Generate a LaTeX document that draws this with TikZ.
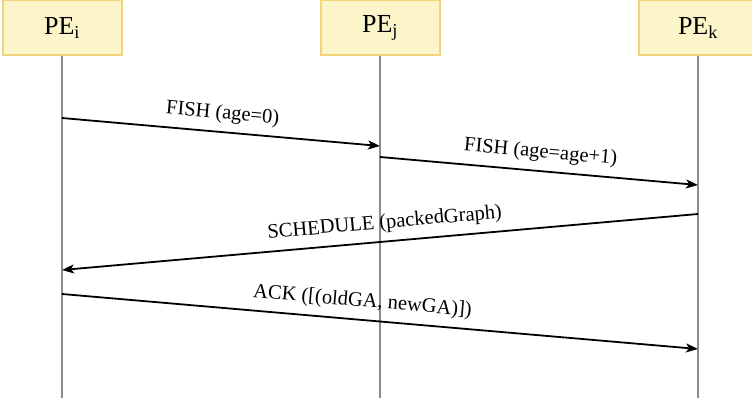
\documentclass[tikz,border=0pt]{standalone}
\usepackage{fontspec}
\setmainfont{Liberation Serif}
\usetikzlibrary{arrows.meta}
\definecolor{boxfill}{HTML}{FBF5C9}
\definecolor{boxline}{HTML}{F4D47A}
\definecolor{lifeline}{HTML}{8C8C8C}
\tikzset{
  pebox/.style={draw=boxline, line width=2pt, fill=boxfill,
    minimum width=119pt, minimum height=55pt, inner sep=0pt,
    font=\fontsize{26}{30}\selectfont},
  life/.style={draw=lifeline, line width=1.8pt},
  msg/.style={draw=black, line width=1.8pt,
    -{Stealth[length=12pt,width=9pt,inset=3pt]}},
  msglabel/.style={sloped, above=8pt, font=\fontsize{20.5}{24}\selectfont, inner sep=0pt}
}
\begin{document}
\begin{tikzpicture}[x=1pt,y=-1pt]
  \useasboundingbox[fill=white] (0,0) rectangle (752,398);

  % processing elements
  \node[pebox] (pi) at (62,28) {PE$_{\mathrm{i}}$};
  \node[pebox] (pj) at (380,28) {PE$_{\mathrm{j}}$};
  \node[pebox] (pk) at (698,28) {PE$_{\mathrm{k}}$};

  % lifeline ends
  \coordinate (ie) at (62,398);
  \coordinate (je) at (380,398);
  \coordinate (ke) at (698,398);
  \draw[life] (pi.south) -- (ie);
  \draw[life] (pj.south) -- (je);
  \draw[life] (pk.south) -- (ke);

  % message end points on the lifelines
  \coordinate (a1) at (62,118);  \coordinate (b1) at (380,146);
  \coordinate (a2) at (380,157); \coordinate (b2) at (698,185);
  \coordinate (a3) at (698,214); \coordinate (b3) at (62,270);
  \coordinate (a4) at (62,294);  \coordinate (b4) at (698,349);

  % messages
  \draw[msg] (a1) -- node[msglabel] {FISH (age=0)} (b1);
  \draw[msg] (a2) -- node[msglabel] {FISH (age=age+1)} (b2);
  \draw[msg] (a3) -- node[msglabel, pos=0.49] {SCHEDULE (packedGraph)} (b3);
  \draw[msg] (a4) -- node[msglabel, pos=0.47] {ACK ([(oldGA, newGA)])} (b4);
\end{tikzpicture}
\end{document}
